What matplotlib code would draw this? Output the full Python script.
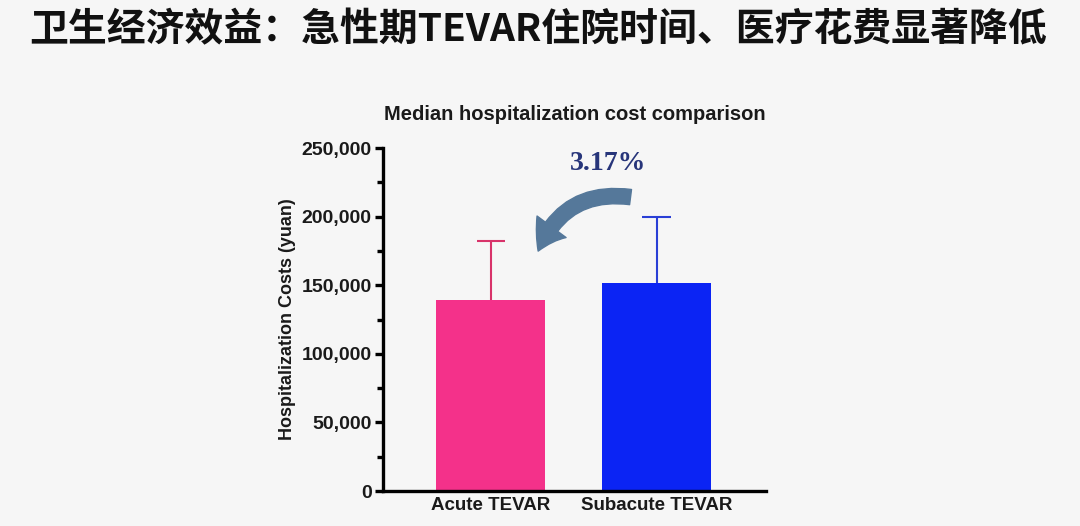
import matplotlib.pyplot as plt
import numpy as np
from matplotlib.patches import FancyArrowPatch
from matplotlib.ticker import FuncFormatter, MultipleLocator

categories = ['Acute TEVAR', 'Subacute TEVAR']
median_cost = [139000, 151500]
upper_err = [43000, 48500]
bar_colors = ['#f4318a', '#0b24f4']
err_colors = ['#d8336a', '#2a3fd6']

fig = plt.figure(figsize=(10.8, 5.26), dpi=100, facecolor='#f6f6f6')

fig.text(0.027, 0.944, '卫生经济效益：急性期TEVAR住院时间、医疗花费显著降低',
         fontsize=28, fontweight='bold', color='#111111', va='center', ha='left',
         family=['Noto Sans CJK SC', 'DejaVu Sans'])

ax = fig.add_axes([0.3546, 0.0665, 0.3546, 0.652])
ax.set_facecolor('none')
x = np.arange(len(categories))
ax.bar(x, median_cost, width=0.66, color=bar_colors, zorder=2)
tops = np.array(median_cost) + np.array(upper_err)
ax.vlines(x, median_cost, tops, colors=err_colors, linewidth=1.5, zorder=1)
ax.hlines(tops, x - 0.085, x + 0.085, colors=err_colors, linewidth=1.5, zorder=1)

ax.set_xlim(-0.65, 1.66)
ax.set_ylim(0, 250000)
ax.yaxis.set_major_locator(MultipleLocator(50000))
ax.yaxis.set_minor_locator(MultipleLocator(25000))
ax.yaxis.set_major_formatter(FuncFormatter(lambda v, p: f'{int(v):,}'))
ax.set_xticks(x)
ax.set_xticklabels(categories)

for s in ['top', 'right']:
    ax.spines[s].set_visible(False)
for s in ['left', 'bottom']:
    ax.spines[s].set_linewidth(2.4)
    ax.spines[s].set_color('#000000')

ax.tick_params(axis='y', which='major', length=6, width=2.4, direction='out', pad=2)
ax.tick_params(axis='y', which='minor', length=4, width=2.4, direction='out')
ax.tick_params(axis='x', length=4, width=2.4, direction='in', pad=4)
for lbl in ax.get_yticklabels():
    lbl.set_fontfamily('Liberation Sans')
    lbl.set_fontweight('bold')
    lbl.set_fontsize(14)
    lbl.set_color('#1a1a1a')
for lbl in ax.get_xticklabels():
    lbl.set_fontfamily('Liberation Sans')
    lbl.set_fontweight('bold')
    lbl.set_fontsize(13.5)
    lbl.set_color('#1a1a1a')

ax.set_ylabel('Hospitalization Costs (yuan)', fontsize=13, fontweight='bold',
              family='Liberation Sans', color='#1a1a1a', labelpad=4)
ax.set_title('Median hospitalization cost comparison', fontsize=14.5, fontweight='bold',
             family='Liberation Sans', color='#1a1a1a', pad=20)

ax.text(0.71, 239000, '3.17%', fontsize=20, fontweight='bold', family='Liberation Serif',
        color='#27357a', ha='center', va='center')
arrow = FancyArrowPatch((0.86, 214000), (0.28, 173000),
                        connectionstyle='arc3,rad=0.4',
                        arrowstyle='simple,head_width=26,head_length=20,tail_width=11',
                        color='#55789a', mutation_scale=1, zorder=3)
ax.add_patch(arrow)

fig.savefig('out.png', dpi=100, facecolor=fig.get_facecolor())
